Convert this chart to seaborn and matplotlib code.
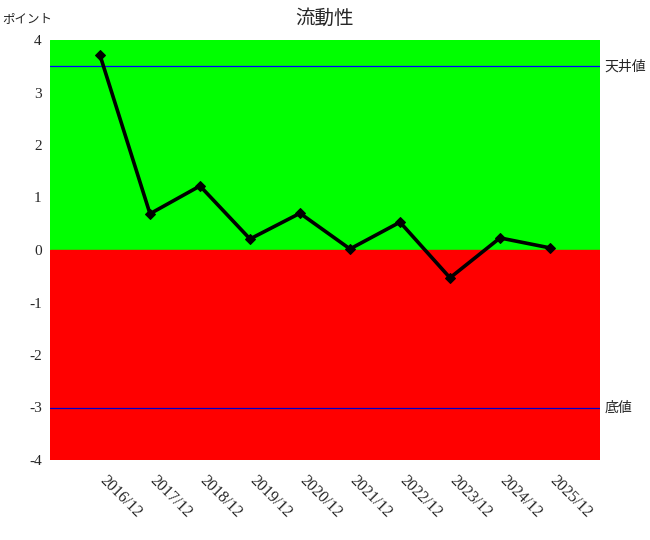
import matplotlib
matplotlib.use("Agg")
import matplotlib.pyplot as plt
import matplotlib.transforms as mtrans
import seaborn as sns
import pandas as pd

# --------------------------
# Data
# --------------------------
periods = ["2016/12", "2017/12", "2018/12", "2019/12", "2020/12",
           "2021/12", "2022/12", "2023/12", "2024/12", "2025/12"]
points = [3.71, 0.69, 1.22, 0.21, 0.70, 0.02, 0.53, -0.53, 0.23, 0.04]
ceiling = 3.5
floor = -3.0
y_ticks = [-4, -3, -2, -1, 0, 1, 2, 3, 4]

df = pd.DataFrame({"pos": range(1, len(periods) + 1), "value": points})

# --------------------------
# Setup
# --------------------------
sns.set_theme(style="white")
plt.rcParams["font.family"] = ["Noto Sans CJK JP", "DejaVu Sans"]
serif = ["Liberation Serif", "DejaVu Serif"]

fig = plt.figure(figsize=(6.5, 5.4), dpi=100)
ax = fig.add_axes([50 / 650, 80 / 540, 550 / 650, 420 / 540])

# background bands
ax.axhspan(0, 4, color="#00ff00", zorder=0)
ax.axhspan(-4, 0, color="#ff0000", zorder=0)

# ceiling / floor lines
ax.axhline(ceiling, color="#0000ff", linewidth=0.9, zorder=1)
ax.axhline(floor, color="#0000cc", linewidth=0.9, zorder=1)

sns.lineplot(data=df, x="pos", y="value", ax=ax, color="black",
             linewidth=2.6, marker="D", markersize=5.5,
             markeredgecolor="black", zorder=3)

ax.set_xlim(0, len(periods) + 1)
ax.set_ylim(-4, 4)
ax.set_yticks(y_ticks)
ax.set_yticklabels([str(t) for t in y_ticks], fontfamily=serif, fontsize=11)
ax.set_xticks(df["pos"])
ax.set_xticklabels(periods, rotation=-45, ha="left", va="top",
                   rotation_mode="anchor", fontfamily=serif, fontsize=11.5)
ax.tick_params(axis="both", length=0, pad=6)
ax.tick_params(axis="x", pad=9)
shift = mtrans.ScaledTranslation(8 / 100, 0, fig.dpi_scale_trans)
for lbl in ax.get_xticklabels():
    lbl.set_transform(lbl.get_transform() + shift)
for s in ax.spines.values():
    s.set_visible(False)

ax.set_xlabel("")
ax.set_ylabel("")

ax.text(1.008, ceiling, "天井値", transform=ax.get_yaxis_transform(),
        va="center", ha="left", fontsize=10)
ax.text(1.008, floor, "底値", transform=ax.get_yaxis_transform(),
        va="center", ha="left", fontsize=10)

fig.text(2 / 650, 1 - 19 / 540, "ポイント", ha="left", va="center", fontsize=9)
fig.text(325 / 650, 1 - 18 / 540, "流動性", ha="center", va="center", fontsize=14)

plt.savefig("out.png", dpi=100)
plt.close()
